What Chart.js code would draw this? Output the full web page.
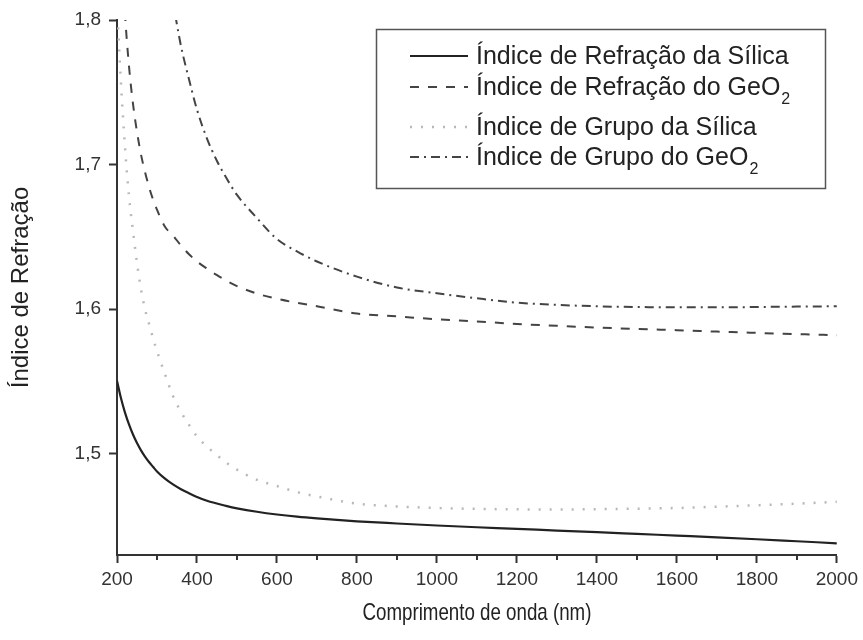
<!DOCTYPE html>
<html>
<head>
<meta charset="utf-8">
<script src="https://cdn.jsdelivr.net/npm/chart.js@4.4.1/dist/chart.umd.min.js"></script>
<style>
  html, body { margin: 0; padding: 0; background: #fff; }
  #wrap { width: 863px; height: 640px; }
</style>
</head>
<body>
<div id="wrap"><canvas id="chart" width="863" height="640"></canvas></div>
<script>
// ── data (wavelength in nm) ──
const wavelengths = [200, 210, 220, 230, 240, 250, 260, 270, 280, 290, 300, 320, 340, 360, 380, 400, 425, 450, 475, 500,
                     550, 600, 650, 700, 800, 900, 1000, 1100, 1200, 1300, 1400, 1500, 1600, 1700, 1800, 1900, 2000];

const silicaIndex = [1.5505, 1.5384, 1.5285, 1.5203, 1.5133, 1.5074, 1.5024, 1.4981, 1.4943, 1.4910, 1.4878, 1.4828, 1.4788,
                     1.4755, 1.4727, 1.4701, 1.4675, 1.4656, 1.4638, 1.4623, 1.4599, 1.4580, 1.4565, 1.4553, 1.4533, 1.4518,
                     1.4504, 1.4492, 1.4481, 1.4469, 1.4458, 1.4446, 1.4434, 1.4422, 1.4409, 1.4395, 1.4381];

const geo2Index   = [1.930, 1.855, 1.804, 1.768, 1.742, 1.7226, 1.707, 1.695, 1.6846, 1.676, 1.6688, 1.657, 1.651,
                     1.644, 1.638, 1.633, 1.628, 1.6235, 1.6195, 1.616, 1.6108, 1.6072, 1.6044, 1.602, 1.597, 1.595,
                     1.593, 1.5915, 1.5898, 1.5885, 1.5873, 1.5863, 1.5855, 1.5845, 1.5836, 1.5828, 1.582];

const silicaGroup = [1.810, 1.756, 1.712, 1.678, 1.654, 1.632, 1.614, 1.600, 1.590, 1.580, 1.571, 1.555, 1.540,
                     1.529, 1.520, 1.512, 1.505, 1.499, 1.4935, 1.489, 1.482, 1.4777, 1.4735, 1.4705, 1.4655, 1.4636,
                     1.4625, 1.4619, 1.4616, 1.4615, 1.4617, 1.462, 1.4625, 1.4634, 1.4644, 1.4655, 1.4668];

const geo2Group   = [2.60, 2.45, 2.32, 2.21, 2.12, 2.05, 1.99, 1.95, 1.92, 1.89, 1.87, 1.84, 1.812,
                     1.782, 1.759, 1.738, 1.718, 1.7025, 1.690, 1.679, 1.663, 1.6485, 1.640, 1.633, 1.6225, 1.615,
                     1.611, 1.6075, 1.6045, 1.603, 1.602, 1.6015, 1.6013, 1.6013, 1.6015, 1.6018, 1.602];

const xTicks      = [200, 400, 600, 800, 1000, 1200, 1400, 1600, 1800, 2000];
const xMinorTicks = [300, 500, 700, 900, 1100, 1300, 1500, 1700, 1900];
const yTicks      = [1.5, 1.6, 1.7, 1.8];

const seriesNames = ['Índice de Refração da Sílica', 'Índice de Refração do GeO', 'Índice de Grupo da Sílica', 'Índice de Grupo do GeO'];
const seriesSubs  = ['', '2', '', '2'];
const xTitle = 'Comprimento de onda (nm)';
const yTitle = 'Índice de Refração';

const AXIS = '#333';
const FONT = 'Arial, "Liberation Sans", sans-serif';

// ══════════════════════════════════════════════════════════════════
//  small plugins: minor ticks + narrow x title, boxed legend
// ══════════════════════════════════════════════════════════════════
const xAxisExtras = {
  id: 'xAxisExtras',
  afterDraw(chart) {
    const x = chart.scales.x;
    const ctx = chart.ctx;
    ctx.save();
    ctx.strokeStyle = AXIS;
    ctx.lineWidth = 2;
    xMinorTicks.forEach(v => {
      const px = Math.round(x.getPixelForValue(v));
      ctx.beginPath();
      ctx.moveTo(px, x.top);
      ctx.lineTo(px, x.top + 5);
      ctx.stroke();
    });

    // the original's x title is set in a condensed face
    ctx.translate((x.left + x.right) / 2, 613);
    ctx.scale(0.78, 1);
    ctx.fillStyle = '#222';
    ctx.font = '24px ' + FONT;
    ctx.textAlign = 'center';
    ctx.textBaseline = 'middle';
    ctx.fillText(xTitle, 0, 0);
    ctx.restore();
  }
};

const boxLegend = {
  id: 'boxLegend',
  afterDraw(chart) {
    const ctx = chart.ctx;
    const rows = [56, 87, 127, 157];
    ctx.save();
    ctx.strokeStyle = '#555';
    ctx.lineWidth = 1.5;
    ctx.strokeRect(376.5, 29.5, 449, 159);

    chart.data.datasets.forEach((ds, i) => {
      const y = rows[i];
      ctx.save();
      ctx.strokeStyle = ds.borderColor;
      ctx.lineWidth = ds.borderWidth;
      ctx.setLineDash(ds.borderDash || []);
      ctx.beginPath();
      ctx.moveTo(410, y);
      ctx.lineTo(468, y);
      ctx.stroke();
      ctx.restore();

      ctx.fillStyle = '#222';
      ctx.textBaseline = 'middle';
      ctx.font = '25px ' + FONT;
      ctx.fillText(seriesNames[i], 476, y + 1);
      if (seriesSubs[i]) {
        const w = ctx.measureText(seriesNames[i]).width;
        ctx.font = '16px ' + FONT;
        ctx.fillText(seriesSubs[i], 476 + w + 1, y + 13);
      }
    });
    ctx.restore();
  }
};

function line(label, values, color, width, dash) {
  return {
    label,
    data: wavelengths.map((w, i) => ({ x: w, y: values[i] })),
    borderColor: color,
    borderWidth: width,
    borderDash: dash,
    pointRadius: 0,
    fill: false,
    cubicInterpolationMode: 'monotone'
  };
}

new Chart(document.getElementById('chart'), {
  type: 'line',
  data: {
    datasets: [
      line(seriesNames[0], silicaIndex, '#222', 2.2, []),
      line(seriesNames[1], geo2Index, '#444', 2, [9, 9]),
      line(seriesNames[2], silicaGroup, '#b8b8b8', 2.5, [2, 9]),
      line(seriesNames[3], geo2Group, '#444', 2, [9, 5, 2, 5])
    ]
  },
  options: {
    responsive: false,
    animation: false,
    devicePixelRatio: 1,
    layout: { padding: { top: 20, right: 25, left: 0, bottom: 0 } },
    plugins: { legend: { display: false }, tooltip: { enabled: false } },
    scales: {
      x: {
        type: 'linear',
        min: 200,
        max: 2000,
        afterBuildTicks: s => { s.ticks = xTicks.map(v => ({ value: v })); },
        afterFit: s => { s.height = 85; },
        ticks: {
          color: AXIS, font: { family: FONT, size: 19 }, padding: 5, maxRotation: 0,
          callback: v => String(v)
        },
        grid: { drawOnChartArea: false, tickLength: 8, tickColor: AXIS, tickWidth: 2 },
        border: { display: true, color: AXIS, width: 2 }
      },
      y: {
        min: 1.43,
        max: 1.8,
        afterBuildTicks: s => { s.ticks = yTicks.map(v => ({ value: v })); },
        afterFit: s => { s.width = 117; },
        ticks: {
          color: AXIS, font: { family: FONT, size: 19 }, padding: 8,
          callback: v => v.toFixed(1).replace('.', ',')
        },
        grid: { drawOnChartArea: false, tickLength: 8, tickColor: AXIS, tickWidth: 2 },
        border: { display: true, color: AXIS, width: 2 },
        title: {
          display: true, text: yTitle, color: '#222',
          font: { family: FONT, size: 24 }, padding: { top: 7, bottom: 0 }
        }
      }
    }
  },
  plugins: [xAxisExtras, boxLegend]
});
</script>
</body>
</html>
